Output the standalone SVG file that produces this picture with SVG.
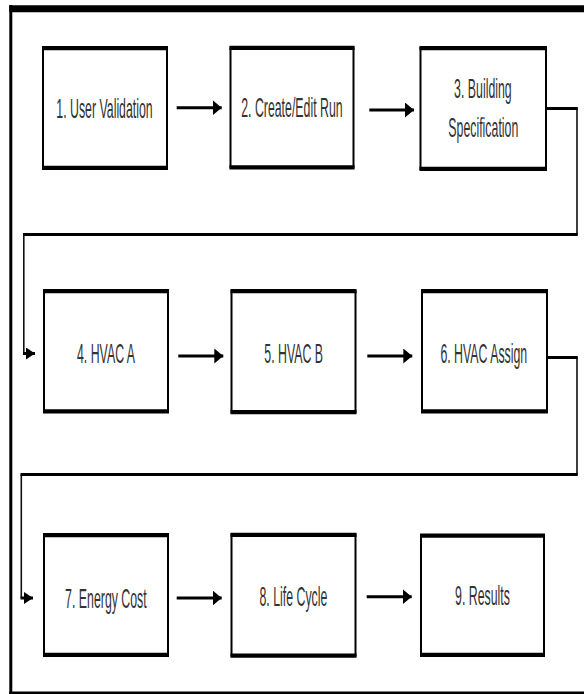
<svg xmlns="http://www.w3.org/2000/svg" width="584" height="694" viewBox="0 0 584 694">
  <style>
    .frame { fill: none; stroke: #000; }
    .box { fill: #fff; stroke: #000; stroke-width: 2; }
    .rule { fill: none; stroke: #000; stroke-width: 4.2; }
    .label { font-family: "Liberation Sans", Arial, sans-serif; font-size: 27px; fill: #333; text-anchor: middle; }
    .h { fill: none; stroke: #000; stroke-width: 3; }
    .v { fill: none; stroke: #111; stroke-width: 1.6; }
  </style>
  <defs>
    <marker id="head" markerUnits="userSpaceOnUse" viewBox="0 0 9 15" markerWidth="9" markerHeight="15" refX="9" refY="7.5" orient="auto">
      <path d="M0,0 L9,7.5 L0,15 Z" fill="#000"/>
    </marker>
    <marker id="head-sm" markerUnits="userSpaceOnUse" viewBox="0 0 9 12" markerWidth="9" markerHeight="12" refX="9" refY="6" orient="auto">
      <path d="M0,0 L9,6 L0,12 Z" fill="#000"/>
    </marker>
  </defs>

  <rect width="584" height="694" fill="#fff"/>

  <!-- outer frame -->
  <g id="frame">
    <line class="frame" x1="9.3" y1="8.7" x2="584" y2="8.7" stroke-width="7"/>
    <line class="frame" x1="10.8" y1="5" x2="10.8" y2="694" stroke-width="3"/>
    <line class="frame" x1="9.3" y1="692.8" x2="584" y2="692.8" stroke-width="2.5"/>
  </g>

  <!-- connectors -->
  <g id="connectors">
    <path class="h" d="M176.7,107.7 H221.7" marker-end="url(#head)"/>
    <path class="h" d="M369.3,110 H414" marker-end="url(#head)"/>
    <g id="c3-4">
      <path class="v" d="M577,108.5 V234.5 M23.8,234.5 V353.5"/>
      <path class="h" d="M547,108.5 H577.8 M577.8,234.5 H23 M23,353.5 H35" marker-end="url(#head-sm)"/>
    </g>
    <path class="h" d="M178.3,356 H223.3" marker-end="url(#head)"/>
    <path class="h" d="M367.3,356 H412.3" marker-end="url(#head)"/>
    <g id="c6-7">
      <path class="v" d="M577,357.5 V474.5 M21.3,474.5 V598"/>
      <path class="h" d="M548,357.5 H577.8 M577.8,474.5 H20.5 M20.5,598 H33" marker-end="url(#head-sm)"/>
    </g>
    <path class="h" d="M176.7,598 H221.7" marker-end="url(#head)"/>
    <path class="h" d="M366.7,596.7 H411.7" marker-end="url(#head)"/>
  </g>

  <!-- row 1 -->
  <g id="n1">
    <rect class="box" x="43" y="48" width="124" height="120"/>
    <path class="rule" d="M42,48.1 H168 M42,167.9 H168"/>
    <text class="label" transform="translate(104.5 117.5) scale(0.457 1)">1. User Validation</text>
  </g>
  <g id="n2">
    <rect class="box" x="230.5" y="47.7" width="123" height="119.8"/>
    <path class="rule" d="M229.5,47.8 H354.5 M229.5,167.4 H354.5"/>
    <text class="label" transform="translate(291.9 117) scale(0.457 1)">2. Create/Edit Run</text>
  </g>
  <g id="n3">
    <rect class="box" x="420.5" y="48" width="125.5" height="121"/>
    <path class="rule" d="M419.5,48.1 H547 M419.5,168.9 H547"/>
    <text class="label" transform="translate(482.9 98) scale(0.457 1)">3. Building</text>
    <text class="label" transform="translate(483.3 137) scale(0.457 1)">Specification</text>
  </g>

  <!-- row 2 -->
  <g id="n4">
    <rect class="box" x="44" y="291" width="124" height="120.5"/>
    <path class="rule" d="M43,291.1 H169 M43,411.4 H169"/>
    <text class="label" transform="translate(106 363) scale(0.457 1)">4. HVAC A</text>
  </g>
  <g id="n5">
    <rect class="box" x="231.5" y="291" width="124" height="121.3"/>
    <path class="rule" d="M230.5,291.1 H356.5 M230.5,412.2 H356.5"/>
    <text class="label" transform="translate(293.7 362.5) scale(0.457 1)">5. HVAC B</text>
  </g>
  <g id="n6">
    <rect class="box" x="422" y="291" width="125" height="120.5"/>
    <path class="rule" d="M421,291.1 H548 M421,411.4 H548"/>
    <text class="label" transform="translate(483.8 363) scale(0.457 1)">6. HVAC Assign</text>
  </g>

  <!-- row 3 -->
  <g id="n7">
    <rect class="box" x="44" y="535" width="124" height="120"/>
    <path class="rule" d="M43,535.1 H169 M43,654.9 H169"/>
    <text class="label" transform="translate(105.9 608) scale(0.457 1)">7. Energy Cost</text>
  </g>
  <g id="n8">
    <rect class="box" x="231.5" y="534.7" width="124" height="121"/>
    <path class="rule" d="M230.5,534.8 H356.5 M230.5,655.6 H356.5"/>
    <text class="label" transform="translate(293.4 606) scale(0.457 1)">8. Life Cycle</text>
  </g>
  <g id="n9">
    <rect class="box" x="421" y="535.5" width="123" height="119.5"/>
    <path class="rule" d="M420,535.6 H545 M420,654.9 H545"/>
    <text class="label" transform="translate(482.5 605) scale(0.457 1)">9. Results</text>
  </g>
</svg>
